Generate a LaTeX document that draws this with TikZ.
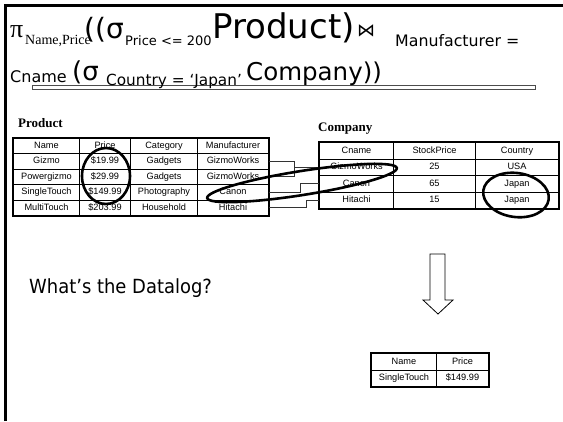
\documentclass[tikz,border=0pt]{standalone}
\usepackage{fontspec}
\setmainfont{Liberation Serif}
\newfontfamily\titlefont{DejaVu Sans}
\newfontfamily\cellfont{Liberation Sans}
\newfontfamily\qfont[FakeStretch=0.92]{DejaVu Sans}
\usetikzlibrary{matrix,shapes.geometric}

\begin{document}
\begin{tikzpicture}[x=1pt,y=-1pt,
  cell/.style={draw, line width=0.6pt, inner sep=0pt, minimum height=15.5pt,
    text height=6.8pt, text depth=1.8pt, font=\cellfont\fontsize{9.2}{10}\selectfont},
  tableframe/.style={draw, line width=1.6pt},
  ring/.style={draw, ellipse, line width=2.6pt, inner sep=0pt},
  link/.style={draw, line width=0.7pt, black!80},
  piece/.style={anchor=base west, inner sep=0pt},
  label/.style={anchor=base west, inner sep=0pt, font=\bfseries\fontsize{13}{13}\selectfont}]

\useasboundingbox (0,0) rectangle (563,421);

% slide frame
\draw[line width=2.4pt] (5.5,421) -- (5.5,5.5) -- (563,5.5);

% underline bar beneath the expression
\draw[draw=black!70, line width=1pt, fill=white] (32,85) rectangle (535,89);

% algebra expression, line one
\node[piece, font=\fontsize{26}{26}\selectfont] (pi) at (10,37) {π};
\node[piece, font=\fontsize{14}{14}\selectfont] (piSub) at (25,44) {Name,Price};
\node[piece, font=\titlefont\fontsize{28}{28}\selectfont] (openA) at (84,38) {((σ};
\node[piece, font=\titlefont\fontsize{13}{14}\selectfont] (selA) at (125,45) {Price <= 200};
\node[piece, font=\titlefont\fontsize{34}{34}\selectfont] (prodWord) at (212,38) {Product)};
\node[piece, font=\titlefont\fontsize{18}{18}\selectfont] (bowtie) at (357,36) {⋈};
\node[piece, font=\titlefont\fontsize{15.8}{16}\selectfont] (joinCond) at (395,46) {Manufacturer =};

% algebra expression, line two
\node[piece, font=\titlefont\fontsize{16}{16}\selectfont] (cname) at (10,82) {Cname};
\node[piece, font=\titlefont\fontsize{26}{26}\selectfont] (openB) at (72,80) {(σ};
\node[piece, font=\titlefont\fontsize{15.3}{15}\selectfont] (selB) at (106,85) {Country = ‘Japan’};
\node[piece, font=\titlefont\fontsize{24.5}{25}\selectfont] (compWord) at (246,80) {Company))};

% table captions
\node[label] (prodLabel) at (18,127) {Product};
\node[label] (compLabel) at (318,131) {Company};

% Product relation
\matrix (prod) [matrix of nodes, anchor=north west, inner sep=0pt,
  column sep=-0.6pt, row sep=-0.6pt, nodes={cell},
  column 1/.style={nodes={minimum width=66pt}},
  column 2/.style={nodes={minimum width=51pt}},
  column 3/.style={nodes={minimum width=67pt}},
  column 4/.style={nodes={minimum width=71pt}}] at (13,137.5) {
  Name & Price & Category & Manufacturer \\
  Gizmo & \$19.99 & Gadgets & GizmoWorks \\
  Powergizmo & \$29.99 & Gadgets & GizmoWorks \\
  SingleTouch & \$149.99 & Photography & Canon \\
  MultiTouch & \$203.99 & Household & Hitachi \\
};
\draw[tableframe] (prod.north west) rectangle (prod.south east);

% Company relation
\matrix (comp) [matrix of nodes, anchor=north west, inner sep=0pt,
  column sep=-0.6pt, row sep=-0.6pt, nodes={cell, minimum height=16.5pt},
  column 1/.style={nodes={minimum width=74pt}},
  column 2/.style={nodes={minimum width=82pt}},
  column 3/.style={nodes={minimum width=83pt}}] at (319,142) {
  Cname & StockPrice & Country \\
  GizmoWorks & 25 & USA \\
  Canon & 65 & Japan \\
  Hitachi & 15 & Japan \\
};
\draw[tableframe] (comp.north west) rectangle (comp.south east);

% foreign key links
\draw[link] (prod-2-4.east) -- ++(26,0) |- (comp-2-1.west);
\draw[link] (prod-3-4.east) -- ++(26,0) |- (comp-2-1.west);
\draw[link] (prod-4-4.east) -- ++(32,0) |- (comp-3-1.west);
\draw[link] (prod-5-4.east) -- ++(38,0) |- (comp-4-1.west);

% highlighted values
\node[ring, minimum width=48pt, minimum height=56pt] (priceRing) at (106,176) {};
\node[ring, minimum width=192pt, minimum height=24pt, rotate=9] (canonRing) at (302,183) {};
\node[ring, minimum width=66pt, minimum height=44pt, rotate=-8] (japanRing) at (516,195) {};

% question
\node[piece, font=\qfont\fontsize{19.5}{20}\selectfont] (question) at (29,293) {What’s the Datalog?};

% evaluation arrow
\draw[line width=0.8pt, fill=white] (430,254) -- (445,254) -- (445,300) -- (453,300)
  -- (438,314) -- (423,300) -- (430,300) -- cycle;

% answer relation
\matrix (res) [matrix of nodes, anchor=north west, inner sep=0pt,
  column sep=-0.6pt, row sep=-0.6pt, nodes={cell, minimum height=16.5pt},
  column 1/.style={nodes={minimum width=65pt}},
  column 2/.style={nodes={minimum width=52pt}}] at (371,353) {
  Name & Price \\
  SingleTouch & \$149.99 \\
};
\draw[tableframe] (res.north west) rectangle (res.south east);
\end{tikzpicture}
\end{document}
